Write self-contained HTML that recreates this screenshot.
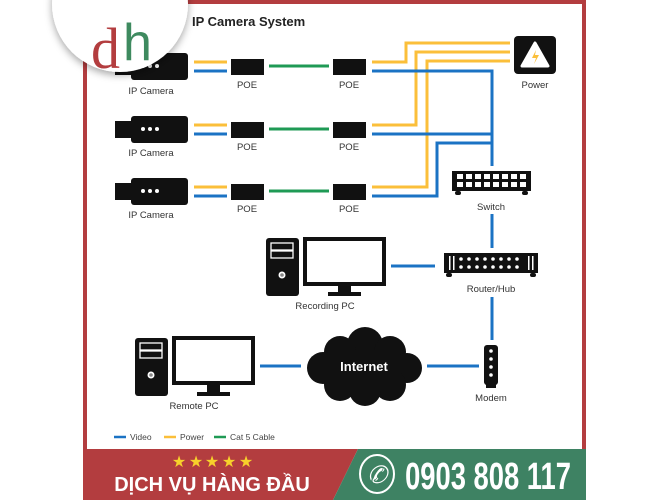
<!DOCTYPE html>
<html><head><meta charset="utf-8"><style>
html,body{margin:0;padding:0;background:#fff;}
svg{display:block;font-family:"Liberation Sans",sans-serif;}
</style></head><body>
<svg width="666" height="500" viewBox="0 0 666 500" xmlns="http://www.w3.org/2000/svg">
<defs>
<filter id="sh" x="-30%" y="-30%" width="160%" height="160%"><feDropShadow dx="0" dy="3" stdDeviation="4" flood-color="#000" flood-opacity="0.35"/></filter>
</defs>
<rect width="666" height="500" fill="#fff"/>
<rect x="83" y="0" width="503" height="4" fill="#b33d3f"/>
<rect x="83" y="0" width="4" height="460" fill="#b33d3f"/>
<rect x="582" y="0" width="4" height="460" fill="#b33d3f"/>

<g stroke-width="3" fill="none">
<g stroke="#fbbf3a"><line x1="194" y1="62" x2="227" y2="62"/><line x1="194" y1="125" x2="227" y2="125"/><line x1="194" y1="187" x2="227" y2="187"/></g>
<g stroke="#1b73c4"><line x1="194" y1="71" x2="227" y2="71"/><line x1="194" y1="134" x2="227" y2="134"/><line x1="194" y1="196" x2="227" y2="196"/></g>
<g stroke="#1f9a55"><line x1="269" y1="66" x2="329" y2="66"/><line x1="269" y1="129" x2="329" y2="129"/><line x1="269" y1="191" x2="329" y2="191"/></g>
<g stroke="#fbbf3a">
<polyline points="372,62 406,62 406,43 510,43"/>
<polyline points="372,125 416,125 416,52 510,52"/>
<polyline points="372,187 427,187 427,61 510,61"/>
</g>
<g stroke="#1b73c4">
<polyline points="372,71 492,71 492,166"/>
<polyline points="372,134 492,134"/>
<polyline points="372,196 437,196 437,143 492,143"/>
<line x1="492" y1="214" x2="492" y2="248"/>
<line x1="492" y1="297" x2="492" y2="340"/>
<line x1="391" y1="266" x2="435" y2="266"/>
<line x1="427" y1="366" x2="479" y2="366"/>
<line x1="260" y1="366" x2="301" y2="366"/>
</g>
</g>

<g fill="#111">
<g><rect x="131" y="53" width="57" height="27" rx="3"/><rect x="115" y="59" width="18" height="16"/></g>
<g><rect x="131" y="116" width="57" height="27" rx="3"/><rect x="115" y="121" width="18" height="17"/></g>
<g><rect x="131" y="178" width="57" height="27" rx="3"/><rect x="115" y="183" width="18" height="17"/></g>
</g>
<g fill="#fff">
<circle cx="143" cy="66" r="2"/><circle cx="150" cy="66" r="2"/><circle cx="157" cy="66" r="2"/>
<circle cx="143" cy="129" r="2"/><circle cx="150" cy="129" r="2"/><circle cx="157" cy="129" r="2"/>
<circle cx="143" cy="191" r="2"/><circle cx="150" cy="191" r="2"/><circle cx="157" cy="191" r="2"/>
</g>
<g fill="#111">
<rect x="231" y="59" width="33" height="16"/><rect x="333" y="59" width="33" height="16"/>
<rect x="231" y="122" width="33" height="16"/><rect x="333" y="122" width="33" height="16"/>
<rect x="231" y="184" width="33" height="16"/><rect x="333" y="184" width="33" height="16"/>
</g>
<g font-size="9.5" fill="#333" text-anchor="middle">
<text x="151" y="94">IP Camera</text><text x="151" y="156">IP Camera</text><text x="151" y="218">IP Camera</text>
<text x="247" y="88">POE</text><text x="349" y="88">POE</text>
<text x="247" y="150">POE</text><text x="349" y="150">POE</text>
<text x="247" y="212">POE</text><text x="349" y="212">POE</text>
<text x="535" y="88">Power</text>
<text x="491" y="210">Switch</text>
<text x="491" y="292">Router/Hub</text>
<text x="325" y="309">Recording PC</text>
<text x="194" y="409">Remote PC</text>
<text x="491" y="401">Modem</text>
</g>

<rect x="514" y="36" width="42" height="38" rx="4" fill="#111"/>
<path d="M535 43 L548 66 L522 66 Z" fill="#fff" stroke="#fff" stroke-width="3" stroke-linejoin="round"/>
<path d="M536 50 L532 58 L536 58 L534 64 L539 55 L535 55 Z" fill="#fbbf3a"/>

<rect x="452" y="171" width="79" height="20" fill="#111"/>
<rect x="455" y="191" width="6" height="4" rx="2" fill="#111"/><rect x="522" y="191" width="6" height="4" rx="2" fill="#111"/>
<g fill="#fff">
<rect x="457" y="174" width="6" height="5"/><rect x="466" y="174" width="6" height="5"/><rect x="475" y="174" width="6" height="5"/><rect x="484" y="174" width="6" height="5"/><rect x="493" y="174" width="6" height="5"/><rect x="502" y="174" width="6" height="5"/><rect x="511" y="174" width="6" height="5"/><rect x="520" y="174" width="6" height="5"/>
<rect x="457" y="182" width="6" height="5"/><rect x="466" y="182" width="6" height="5"/><rect x="475" y="182" width="6" height="5"/><rect x="484" y="182" width="6" height="5"/><rect x="493" y="182" width="6" height="5"/><rect x="502" y="182" width="6" height="5"/><rect x="511" y="182" width="6" height="5"/><rect x="520" y="182" width="6" height="5"/>
</g>

<rect x="444" y="253" width="94" height="20" fill="#111"/>
<rect x="446" y="273" width="6" height="4" rx="2" fill="#111"/><rect x="530" y="273" width="6" height="4" rx="2" fill="#111"/>
<g fill="#fff">
<rect x="449" y="256" width="1.5" height="14"/><rect x="453" y="256" width="1.5" height="14"/><rect x="528" y="256" width="1.5" height="14"/><rect x="532" y="256" width="1.5" height="14"/>
<g id="rd"><circle cx="461" cy="259" r="1.8"/><circle cx="469" cy="259" r="1.8"/><circle cx="477" cy="259" r="1.8"/><circle cx="485" cy="259" r="1.8"/><circle cx="493" cy="259" r="1.8"/><circle cx="501" cy="259" r="1.8"/><circle cx="509" cy="259" r="1.8"/><circle cx="517" cy="259" r="1.8"/></g>
<use href="#rd" y="8"/>
</g>

<rect x="266" y="238" width="33" height="58" rx="3" fill="#111"/>
<rect x="271" y="243" width="22" height="7" fill="none" stroke="#fff" stroke-width="1.3"/>
<rect x="271" y="251" width="22" height="7" fill="none" stroke="#fff" stroke-width="1.3"/>
<circle cx="282" cy="275" r="3.5" fill="#fff"/><circle cx="282" cy="275" r="1.8" fill="#888"/>
<rect x="305" y="239" width="79" height="45" fill="#fff" stroke="#111" stroke-width="4"/>
<rect x="338" y="285" width="13" height="8" fill="#111"/><rect x="328" y="292" width="33" height="4" fill="#111"/>

<rect x="135" y="338" width="33" height="58" rx="3" fill="#111"/>
<rect x="140" y="343" width="22" height="7" fill="none" stroke="#fff" stroke-width="1.3"/>
<rect x="140" y="351" width="22" height="7" fill="none" stroke="#fff" stroke-width="1.3"/>
<circle cx="151" cy="375" r="3.5" fill="#fff"/><circle cx="151" cy="375" r="1.8" fill="#888"/>
<rect x="174" y="338" width="79" height="45" fill="#fff" stroke="#111" stroke-width="4"/>
<rect x="207" y="385" width="13" height="8" fill="#111"/><rect x="197" y="392" width="33" height="4" fill="#111"/>

<g fill="#111">
<circle cx="365" cy="345" r="18"/><circle cx="340" cy="352" r="16"/><circle cx="390" cy="352" r="16"/>
<circle cx="323" cy="368" r="16"/><circle cx="407" cy="368" r="15"/>
<circle cx="340" cy="385" r="16"/><circle cx="390" cy="385" r="16"/><circle cx="365" cy="390" r="16"/>
<rect x="330" y="350" width="70" height="40"/>
</g>
<text x="364" y="371" font-size="13" font-weight="bold" fill="#fff" text-anchor="middle">Internet</text>

<rect x="484" y="345" width="14" height="40" rx="3" fill="#111"/>
<rect x="486" y="384" width="10" height="4" fill="#111"/>
<g fill="#fff"><circle cx="491" cy="351" r="1.8"/><circle cx="491" cy="359" r="1.8"/><circle cx="491" cy="367" r="1.8"/><circle cx="491" cy="375" r="1.8"/></g>

<g stroke-width="2.5"><line x1="114" y1="437" x2="126" y2="437" stroke="#1b73c4"/><line x1="164" y1="437" x2="176" y2="437" stroke="#fbbf3a"/><line x1="214" y1="437" x2="226" y2="437" stroke="#1f9a55"/></g>
<g font-size="8.5" fill="#444"><text x="130" y="440">Video</text><text x="180" y="440">Power</text><text x="230" y="440">Cat 5 Cable</text></g>

<!-- logo -->
<circle cx="120" cy="4" r="68" fill="#fff" filter="url(#sh)"/>
<text x="91" y="68" font-size="58" font-family="Liberation Serif,serif" fill="#b33d3f">d</text>
<text x="123" y="60" font-size="52" font-family="Liberation Sans,sans-serif" fill="#3e8a5f">h</text>
<text x="192" y="26" font-size="13" font-weight="bold" fill="#222">IP Camera System</text>

<!-- banner -->
<polygon points="83,449 358,449 333,500 83,500" fill="#b33d3f"/>
<polygon points="358,449 586,449 586,500 333,500" fill="#3e8263"/>
<g fill="#f7d12b" font-size="16" text-anchor="middle"><text x="179" y="467">★</text><text x="196" y="467">★</text><text x="212" y="467">★</text><text x="229" y="467">★</text><text x="246" y="467">★</text></g>
<text x="212" y="491" font-size="20" font-weight="bold" fill="#fff" text-anchor="middle">DỊCH VỤ HÀNG ĐẦU</text>
<ellipse cx="377" cy="474" rx="17" ry="19" fill="none" stroke="#fff" stroke-width="2"/>
<text x="377" y="483" font-size="24" fill="#fff" text-anchor="middle" font-style="italic">✆</text>
<text x="488" y="489" font-size="38" font-weight="bold" fill="#fff" text-anchor="middle" transform="translate(488,0) scale(0.72,1) translate(-488,0)">0903 808 117</text>
</svg>
</body></html>
